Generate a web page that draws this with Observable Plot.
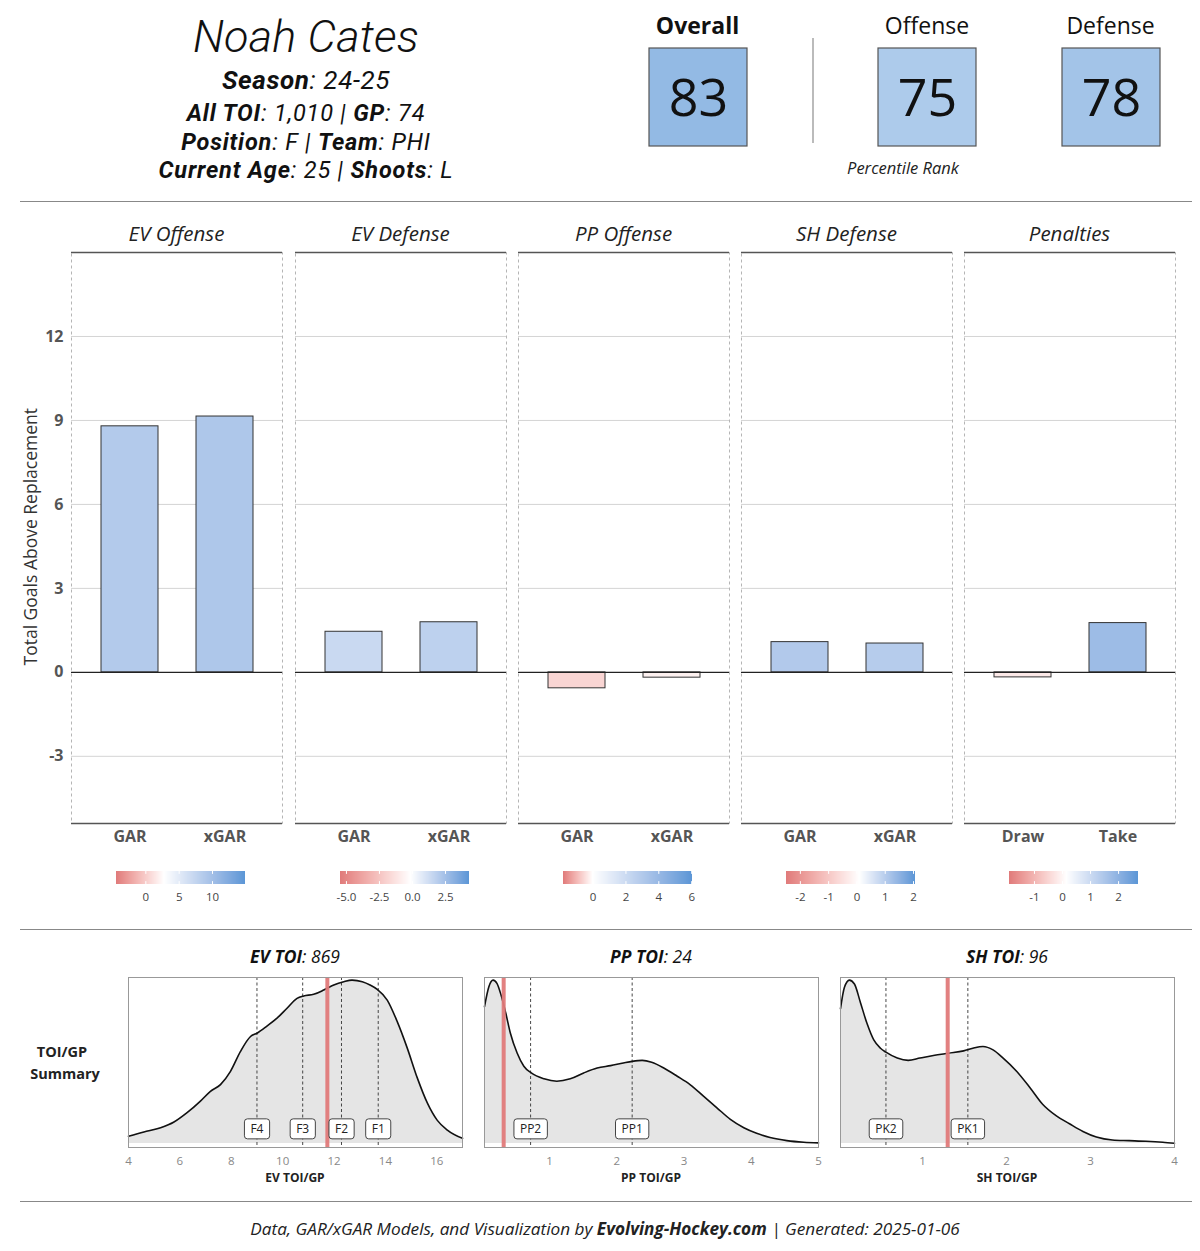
<!DOCTYPE html>
<html><head><meta charset="utf-8">
<script src="https://cdn.jsdelivr.net/npm/d3@7"></script>
<script src="https://cdn.jsdelivr.net/npm/@observablehq/plot@0.6"></script>
<style>
body{margin:0;background:#fff;font-family:"Open Sans",sans-serif;}
#root{position:relative;width:1200px;height:1251px;overflow:hidden;background:#fff}
.t{position:absolute;white-space:nowrap;text-align:center;color:#111;font-family:"Open Sans",sans-serif;transform:translateX(-50%)}
.r{font-family:Roboto,"Open Sans",sans-serif}
.w{position:absolute}
svg{overflow:visible}
.hr{position:absolute;background:#888}
</style></head><body><div id="root"></div>
<script>
// ---------------- DATA ----------------
const playerName = "Noah Cates";
const ratingLabels = ["Overall", "Offense", "Defense"];
const ratingValues = [83, 75, 78];

const panelNames = ["EV Offense", "EV Defense", "PP Offense", "SH Defense", "Penalties"];
const barCats = [["GAR","xGAR"],["GAR","xGAR"],["GAR","xGAR"],["GAR","xGAR"],["Draw","Take"]];
const barVals = [[8.79, 9.14],[1.45, 1.79],[-0.57, -0.19],[1.08, 1.03],[-0.18, 1.76]];
const yTicks = [-3, 0, 3, 6, 9, 12];
const legendLo = [-4.4, -5.45, -1.8, -2.49, -1.89];
const legendMid = [2.8, -0.1, 0, 0.1, 0.15];
const legendHi = [14.95, 4.32, 6.05, 2.07, 2.71];
const legendTicks = [[0,5,10],[-5,-2.5,0,2.5],[0,2,4,6],[-2,-1,0,1,2],[-1,0,1,2]];

const evX = [4.0,4.6,5.25,5.77,6.28,6.8,7.19,7.58,7.97,8.36,8.75,9.0,9.4,9.78,10.17,10.56,10.82,11.21,11.6,11.99,12.38,12.7,13.1,13.4,13.68,14.07,14.46,14.85,15.24,15.63,16.02,16.41,17.0];
const evY = [0.045,0.071,0.097,0.132,0.189,0.26,0.32,0.361,0.442,0.564,0.655,0.675,0.72,0.767,0.828,0.888,0.903,0.913,0.939,0.97,0.99,1.0,0.99,0.97,0.943,0.878,0.746,0.584,0.402,0.249,0.142,0.083,0.032];
const evRefs = [9.0, 10.78, 12.29, 13.72];
const evRefLabels = ["F4","F3","F2","F1"];
const evPlayer = 11.74;

const ppX = [0.035,0.1,0.163,0.22,0.28,0.35,0.42,0.52,0.62,0.73,0.92,1.11,1.31,1.51,1.71,1.91,2.1,2.23,2.38,2.52,2.7,2.9,3.09,3.29,3.49,3.69,3.89,4.08,4.28,4.53,4.78,5.0];
const ppY = [0.838,0.96,1.0,0.98,0.91,0.80,0.675,0.554,0.473,0.432,0.396,0.381,0.396,0.432,0.462,0.477,0.493,0.503,0.509,0.497,0.462,0.412,0.361,0.29,0.219,0.148,0.097,0.063,0.037,0.018,0.008,0.004];
const ppRefs = [0.72, 2.23];
const ppRefLabels = ["PP2","PP1"];
const ppPlayer = 0.32;

const shX = [0.024,0.071,0.13,0.19,0.26,0.34,0.42,0.5,0.565,0.7,0.83,0.97,1.13,1.31,1.49,1.6,1.72,1.84,1.96,2.12,2.28,2.43,2.59,2.75,2.91,3.07,3.26,3.46,3.66,3.86,4.0];
const shY = [0.825,0.956,1.0,0.976,0.865,0.734,0.634,0.583,0.559,0.523,0.509,0.523,0.539,0.553,0.567,0.583,0.594,0.573,0.523,0.443,0.342,0.241,0.171,0.121,0.074,0.04,0.022,0.018,0.014,0.008,0.002];
const shRefs = [0.565, 1.54];
const shRefLabels = ["PK2","PK1"];
const shPlayer = 1.30;

const densTitles = [["EV TOI","869"],["PP TOI","24"],["SH TOI","96"]];
const densAxisLabels = ["EV TOI/GP","PP TOI/GP","SH TOI/GP"];

// ---------------- STYLE ----------------
const RED = "#e07a7a", BLUE = "#5b96d6";
const root = document.getElementById("root");

function txt(html, cx, cy, size, extra = "", cls = "") {
  const d = document.createElement("div");
  d.className = "t " + cls;
  d.innerHTML = html;
  d.style.cssText += `left:${cx}px;top:${cy - size*0.5}px;height:${size}px;line-height:${size}px;font-size:${size}px;${extra}`;
  root.appendChild(d);
  return d;
}
function hr(x, y, w, h, color) {
  const d = document.createElement("div");
  d.className = "hr";
  d.style.cssText = `left:${x}px;top:${y}px;width:${w}px;height:${h}px;background:${color || "#888"}`;
  root.appendChild(d);
}
function place(plot, left, top, width) {
  const w = document.createElement("div");
  w.className = "w";
  w.style.cssText = `left:${left}px;top:${top}px;width:${width}px`;
  w.appendChild(plot);
  root.appendChild(w);
  return plot;
}

// ---------------- HEADER ----------------
txt(`<i>${playerName}</i>`, 306, 36, 45, "font-weight:300;letter-spacing:0.2px;", "r");
txt(`<b><i>Season</i></b><i>: 24-25</i>`, 306, 80, 26, "letter-spacing:0.6px;", "r");
txt(`<b><i>All TOI</i></b><i>: 1,010 | </i><b><i>GP</i></b><i>: 74</i>`, 306, 114, 23.5, "letter-spacing:0.8px;", "r");
txt(`<b><i>Position</i></b><i>: F | </i><b><i>Team</i></b><i>: PHI</i>`, 306, 143, 23.5, "letter-spacing:0.8px;", "r");
txt(`<b><i>Current Age</i></b><i>: 25 | </i><b><i>Shoots</i></b><i>: L</i>`, 306, 171, 23.5, "letter-spacing:0.8px;", "r");

const ratingCx = [697.5, 927, 1110.5];
const ratingColor = {type: "linear", domain: [0, 50, 100], range: [RED, "#ffffff", BLUE], interpolate: "rgb"};
ratingLabels.forEach((lab, i) => {
  txt(lab, ratingCx[i], 25, 23, i === 0 ? "font-weight:700;" : "font-weight:400;");
  const p = Plot.plot({
    width: 100, height: 100, margin: 1,
    style: {background: "transparent", fontFamily: "Open Sans", overflow: "visible"},
    x: {domain: [0, 1], axis: null}, y: {domain: [0, 1], axis: null},
    color: ratingColor,
    marks: [
      Plot.rect([ratingValues[i]], {x1: 0, x2: 1, y1: 0, y2: 1, fill: d => d, stroke: "#555", strokeWidth: 1.2}),
      Plot.text([ratingValues[i]], {x: 0.5, y: 0.5, text: d => String(d), fontSize: 52, fill: "#111", dy: 2})
    ]
  });
  place(p, ratingCx[i] - 50, 47, 100);
});
hr(812, 38, 2, 105, "#bbb");
txt(`<i>Percentile Rank</i>`, 903, 168, 16.5, "color:#222;");
hr(20, 201, 1172, 1, "#888");

// ---------------- GAR PANELS ----------------
const panelLeft = [71, 295, 518, 741, 964];
const PW = 211, PTOP = 252, PH = 571;
const yDomain = [-5.4, 15];
txt("Total Goals Above Replacement", 31, 537, 17.5, "transform:translateX(-50%) rotate(-90deg);color:#333;");

panelNames.forEach((name, i) => {
  txt(`<i>${name}</i>`, panelLeft[i] + PW/2, 233, 20.5, "color:#222;");
  const ml = i === 0 ? 71 : 1;
  const color = {type: "linear", domain: [legendLo[i], legendMid[i], legendHi[i]], range: [RED, "#ffffff", BLUE], interpolate: "lab"};
  const rows = barCats[i].map((c, j) => ({cat: c, val: barVals[i][j]}));
  const p = Plot.plot({
    width: ml + PW + 1, height: 2 + PH + 32,
    marginTop: 2, marginBottom: 32, marginLeft: ml, marginRight: 1,
    style: {background: "transparent", fontFamily: "Open Sans", fontSize: "16px", fontWeight: 700, color: "#555", overflow: "visible"},
    x: {domain: barCats[i], paddingInner: 0.4, paddingOuter: 0.3, tickSize: 0, tickPadding: 7, label: null},
    y: {domain: yDomain, ticks: yTicks, tickFormat: d => String(d), tickSize: 0, tickPadding: 8, label: null, axis: i === 0 ? "left" : null},
    color,
    marks: [
      Plot.frame({stroke: "#b5b5b5", strokeDasharray: "3,3"}),
      Plot.ruleY(yTicks.filter(t => t !== 0), {stroke: "#d4d4d4", strokeWidth: 1}),
      Plot.barY(rows, {x: "cat", y: "val", fill: "val", stroke: "#333", strokeWidth: 1}),
      Plot.ruleY([0], {stroke: "#222", strokeWidth: 1.4}),
      Plot.ruleY([yDomain[1]], {stroke: "#555", strokeWidth: 1.3}),
      Plot.ruleY([yDomain[0]], {stroke: "#555", strokeWidth: 1.3})
    ]
  });
  place(p, panelLeft[i] - ml, PTOP - 2, ml + PW + 1);

  // legend
  const lo = legendLo[i], hi = legendHi[i], n = 129;
  const ramp = d3.range(n).map(k => ({a: lo + (hi - lo) * k / n, b: lo + (hi - lo) * Math.min(n, k + 1.4) / n, m: lo + (hi - lo) * (k + 0.5) / n}));
  const lg = Plot.plot({
    width: 129, height: 38, marginTop: 1, marginBottom: 24, marginLeft: 0, marginRight: 0,
    style: {background: "transparent", fontFamily: "Open Sans", fontSize: "11.5px", color: "#444", overflow: "visible"},
    x: {domain: [lo, hi], ticks: legendTicks[i], tickFormat: d => (i === 1 ? d.toFixed(1) : String(d)), tickSize: 0, tickPadding: 8, label: null},
    y: {domain: [0, 1], axis: null},
    color,
    marks: [
      Plot.rect(ramp, {x1: "a", x2: "b", y1: 0, y2: 1, fill: "m"}),
      Plot.ruleX(legendTicks[i], {y1: 0, y2: 0.22, stroke: "white", strokeWidth: 1}),
      Plot.ruleX(legendTicks[i], {y1: 0.78, y2: 1, stroke: "white", strokeWidth: 1})
    ]
  });
  place(lg, panelLeft[i] + 45, 870, 129);
});

// ---------------- TOI DENSITY ----------------
hr(20, 929, 1172, 1, "#888");
txt("TOI/GP", 62, 1052, 14.5, "font-weight:700;color:#222;");
txt("Summary", 65, 1074, 14.5, "font-weight:700;color:#222;");

const dens = [
  {x: evX, y: evY, refs: evRefs, labels: evRefLabels, player: evPlayer, domain: [4, 17], ticks: [4,6,8,10,12,14,16], left: 128},
  {x: ppX, y: ppY, refs: ppRefs, labels: ppRefLabels, player: ppPlayer, domain: [0.035, 5], ticks: [1,2,3,4,5], left: 484},
  {x: shX, y: shY, refs: shRefs, labels: shRefLabels, player: shPlayer, domain: [0.024, 4], ticks: [1,2,3,4], left: 840}
];
const BW = 334, BTOP = 977, BH = 170;
dens.forEach((D, i) => {
  const cx = D.left + BW / 2;
  txt(`<b><i>${densTitles[i][0]}</i></b><i>: ${densTitles[i][1]}</i>`, cx, 957, 17.5, "color:#111;");
  txt(densAxisLabels[i], cx, 1178, 12, "font-weight:700;color:#222;");
  const pts = D.x.map((x, k) => ({x, y: D.y[k]}));
  const p = Plot.plot({
    width: BW + 20, height: 1 + BH + 24,
    marginTop: 1, marginBottom: 24, marginLeft: 10, marginRight: 10,
    style: {background: "transparent", fontFamily: "Open Sans", fontSize: "11.5px", color: "#888", overflow: "visible"},
    x: {domain: D.domain, ticks: D.ticks, tickFormat: d => String(d), tickSize: 0, tickPadding: 9, label: null},
    y: {domain: [-0.024, 1.016], axis: null},
    marks: [
      Plot.areaY(pts, {x: "x", y: "y", fill: "#e5e5e5", curve: "monotone-x"}),
      Plot.ruleX(D.refs, {stroke: "#333", strokeDasharray: "3,2.5", strokeWidth: 0.9}),
      Plot.lineY(pts, {x: "x", y: "y", stroke: "#111", strokeWidth: 1.6, curve: "monotone-x"}),
      Plot.ruleX([D.player], {stroke: RED, strokeWidth: 4, strokeOpacity: 0.95}),
      Plot.text(D.refs, {x: d => d, y: 0.086, text: D.labels, fontSize: 12, fill: "#222", fontWeight: 400}),
      Plot.frame({stroke: "#999"})
    ]
  });
  place(p, D.left - 10, BTOP - 1, BW + 20);
  p.querySelectorAll("text").forEach(t => {
    if (D.labels.includes(t.textContent)) {
      const b = t.getBBox();
      const r = document.createElementNS("http://www.w3.org/2000/svg", "rect");
      r.setAttribute("x", b.x - 6);
      r.setAttribute("y", b.y - 1.5);
      r.setAttribute("width", b.width + 12);
      r.setAttribute("height", b.height + 3);
      r.setAttribute("rx", 3);
      r.setAttribute("fill", "white");
      r.setAttribute("stroke", "#444");
      r.setAttribute("stroke-width", 1);
      const tr = t.getAttribute("transform");
      if (tr) r.setAttribute("transform", tr);
      t.parentNode.insertBefore(r, t);
    }
  });
});

// ---------------- FOOTER ----------------
hr(20, 1201, 1172, 1, "#888");
txt(`<i>Data, GAR/xGAR Models, and Visualization by </i><b><i>Evolving-Hockey.com</i></b><i> | Generated: 2025-01-06</i>`, 605, 1229, 17.2, "color:#222;");
</script></body></html>
